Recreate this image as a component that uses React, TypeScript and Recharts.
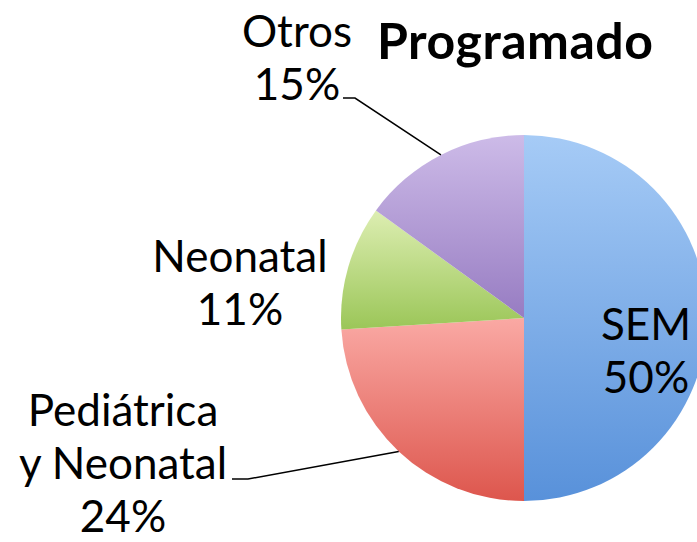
import { PieChart, Pie, Cell } from "recharts";

const categories = ["SEM", "Pediátrica y Neonatal", "Neonatal", "Otros"];
const values = [50, 24, 11, 15];
const labelLines: string[][] = [["SEM"], ["Pediátrica", "y Neonatal"], ["Neonatal"], ["Otros"]];

const data = categories.map((name, i) => ({ name, value: values[i] }));

// top / bottom gradient stops per slice
const colors = [
  ["#a6cbf6", "#5891da"],
  ["#faa9a4", "#dd564d"],
  ["#ddeeb2", "#9bc658"],
  ["#cdbbe8", "#977cc2"],
];

// label placement relative to pie centre: text centre x, baseline of first line, leader elbow
const layout = [
  { dx: 122, dy: 22, leader: null },
  { dx: -401, dy: 108, leader: [-276, 161, -292, 161] },
  { dx: -284, dy: -46, leader: null },
  { dx: -227, dy: -271, leader: [-169, -220, -181, -220] },
];

const FONT = "Lato, 'Open Sans', sans-serif";
const LINE = 53;
const RAD = Math.PI / 180;

const renderLabel = (props: any) => {
  const { cx, cy, midAngle, outerRadius, percent, index } = props;
  const l = layout[index];
  const lines = [...labelLines[index], `${Math.round(percent * 100)}%`];
  const ex = cx + outerRadius * Math.cos(-midAngle * RAD);
  const ey = cy + outerRadius * Math.sin(-midAngle * RAD);
  return (
    <g key={`lbl-${index}`}>
      {l.leader && (
        <polyline
          points={`${ex},${ey} ${cx + l.leader[0]},${cy + l.leader[1]} ${cx + l.leader[2]},${cy + l.leader[3]}`}
          fill="none"
          stroke="#000"
          strokeWidth={1.5}
        />
      )}
      {lines.map((t, j) => (
        <text
          key={j}
          x={cx + l.dx}
          y={cy + l.dy + j * LINE}
          textAnchor="middle"
          fontFamily={FONT}
          fontSize={44}
          fill="#000"
        >
          {t}
        </text>
      ))}
    </g>
  );
};

export default function App() {
  return (
    <div style={{ position: "absolute", left: 0, top: 0, width: 697, height: 542, background: "#fff", overflow: "hidden" }}>
      <PieChart width={697} height={542} margin={{ top: 0, right: 0, bottom: 0, left: 0 }}>
        <defs>
          {colors.map((c, i) => (
            <linearGradient key={i} id={`g${i}`} x1="0" y1="0" x2="0" y2="1">
              <stop offset="0%" stopColor={c[0]} />
              <stop offset="100%" stopColor={c[1]} />
            </linearGradient>
          ))}
        </defs>
        <Pie
          data={data}
          dataKey="value"
          nameKey="name"
          cx={524}
          cy={318}
          outerRadius={183}
          startAngle={90}
          endAngle={-270}
          stroke="none"
          label={renderLabel}
          labelLine={false}
          isAnimationActive={false}
        >
          {data.map((_, i) => (
            <Cell key={i} fill={`url(#g${i})`} />
          ))}
        </Pie>
      </PieChart>
      <div
        style={{
          position: "absolute",
          left: 377,
          top: 10,
          fontFamily: FONT,
          fontWeight: 700,
          fontSize: 50,
          lineHeight: "60px",
          letterSpacing: 0.5,
          color: "#000",
        }}
      >
        Programado
      </div>
    </div>
  );
}
